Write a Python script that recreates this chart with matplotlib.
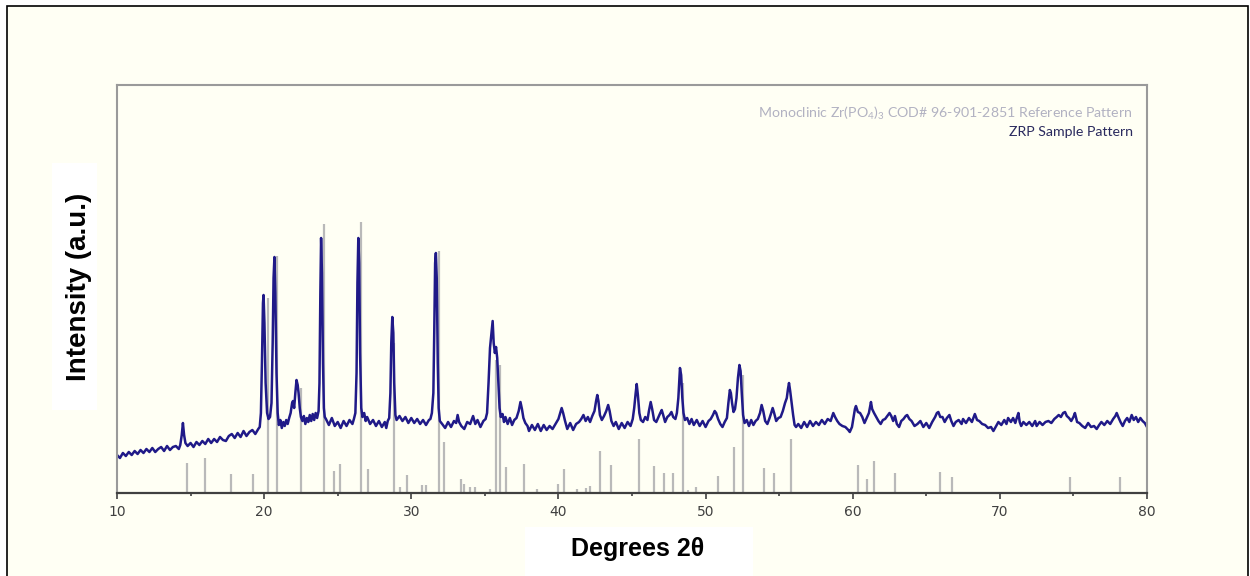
import matplotlib
matplotlib.use("Agg")
import matplotlib.pyplot as plt
from matplotlib.patches import Rectangle

plt.rcParams['mathtext.fontset'] = 'custom'
plt.rcParams['mathtext.rm'] = 'Lato'
plt.rcParams['mathtext.it'] = 'Lato'

# ZRP sample pattern (2theta, intensity in arbitrary units)
sample_2theta = [
    10.0, 10.2, 10.4, 10.6, 10.8, 11.0, 11.2, 11.4, 11.6, 11.8, 12.0, 12.2, 12.4, 12.6, 12.8,
    13.0, 13.2, 13.4, 13.6, 13.8, 14.0, 14.2, 14.3, 14.4, 14.48, 14.56, 14.65, 14.8,
    15.0, 15.2, 15.4, 15.6, 15.8, 16.0, 16.2, 16.4, 16.6, 16.8, 17.0, 17.2, 17.4, 17.6, 17.8,
    18.0, 18.2, 18.4, 18.6, 18.8, 19.0, 19.2, 19.4, 19.6,
    19.7, 19.78, 19.85, 19.92, 19.96, 20.02, 20.1, 20.2, 20.3, 20.4, 20.5, 20.58, 20.64, 20.7,
    20.76, 20.84, 20.92, 21.0,
    21.1, 21.2, 21.3, 21.4, 21.5, 21.6, 21.7, 21.8, 21.9, 21.96, 22.04, 22.12, 22.2, 22.28,
    22.34, 22.42, 22.5, 22.6,
    22.7, 22.8, 22.9, 23.0, 23.1, 23.2, 23.3, 23.4, 23.5, 23.6, 23.7, 23.76, 23.82, 23.87,
    23.93, 24.0, 24.06, 24.12,
    24.2, 24.4, 24.6, 24.8, 25.0, 25.2, 25.4, 25.6, 25.8, 26.0, 26.1, 26.2, 26.28, 26.34,
    26.4, 26.46, 26.52, 26.6, 26.68,
    26.8, 26.9, 27.0, 27.2, 27.4, 27.6, 27.8, 28.0, 28.2, 28.3, 28.4, 28.5, 28.58, 28.64,
    28.71, 28.78, 28.84, 28.92, 29.0,
    29.2, 29.4, 29.6, 29.8, 30.0, 30.2, 30.4, 30.6, 30.8, 31.0, 31.2, 31.3, 31.4, 31.5,
    31.56, 31.62, 31.67, 31.73, 31.8, 31.86, 31.94,
    32.1, 32.3, 32.5, 32.7, 32.9, 33.05, 33.15, 33.25, 33.4, 33.6, 33.8, 34.0, 34.2, 34.35,
    34.5, 34.7, 34.9, 35.05, 35.15, 35.25, 35.35, 35.45, 35.53, 35.6, 35.68, 35.76, 35.84,
    35.92, 36.0, 36.08,
    36.2, 36.3, 36.4, 36.55, 36.7, 36.85, 37.0, 37.15, 37.3, 37.42, 37.52, 37.62, 37.75, 37.9,
    38.0, 38.2, 38.4, 38.6, 38.8, 39.0, 39.2, 39.4, 39.6, 39.8, 40.0, 40.12, 40.22, 40.32,
    40.45, 40.6, 40.8, 41.0, 41.2, 41.4, 41.55, 41.7, 41.85, 42.0, 42.15, 42.3, 42.45, 42.56,
    42.64, 42.72, 42.82, 42.95, 43.1, 43.25, 43.38, 43.48, 43.6, 43.75, 43.9, 44.1, 44.3,
    44.5, 44.7, 44.9, 45.05, 45.15, 45.25, 45.32, 45.4, 45.5, 45.6, 45.75, 45.9, 46.05,
    46.15, 46.27, 46.37, 46.5, 46.65, 46.8, 46.92, 47.02, 47.12, 47.25, 47.4, 47.55, 47.68,
    47.8, 47.95, 48.05, 48.15, 48.26, 48.34, 48.42, 48.5, 48.6, 48.75, 48.9, 49.05, 49.2,
    49.4, 49.6, 49.8, 50.0, 50.2, 50.35, 50.5, 50.62, 50.72, 50.85, 51.0, 51.15, 51.3, 51.45,
    51.55, 51.65, 51.72, 51.8, 51.9, 52.0, 52.1, 52.2, 52.3, 52.38, 52.46, 52.55, 52.65,
    52.8, 52.95, 53.1, 53.25, 53.4, 53.55, 53.7, 53.81, 53.92, 54.05, 54.2, 54.35, 54.46,
    54.56, 54.66, 54.8, 54.95, 55.1, 55.25, 55.4, 55.52, 55.6, 55.67, 55.75, 55.85, 55.95,
    56.05, 56.15,
    56.3, 56.5, 56.7, 56.9, 57.1, 57.3, 57.5, 57.7, 57.9, 58.1, 58.3, 58.5, 58.68, 58.8,
    58.95, 59.1, 59.3, 59.5, 59.7, 59.8, 59.95, 60.05, 60.15, 60.22, 60.35, 60.5, 60.65,
    60.8, 60.95, 61.1, 61.24, 61.32, 61.45, 61.6, 61.75, 61.9, 62.05, 62.2, 62.35, 62.5,
    62.62, 62.75, 62.87, 63.0, 63.15, 63.3, 63.45, 63.6, 63.7, 63.85, 64.0, 64.2, 64.4,
    64.6, 64.8, 65.0, 65.2, 65.4, 65.6, 65.72, 65.82, 65.95, 66.1, 66.25, 66.4, 66.57, 66.7,
    66.85, 67.0, 67.2, 67.4, 67.5, 67.7, 67.9, 68.1, 68.3, 68.45, 68.6, 68.8, 69.0, 69.2,
    69.4, 69.56, 69.75, 69.9, 70.1, 70.3, 70.45, 70.56, 70.75, 70.9, 71.05, 71.15, 71.26,
    71.35, 71.45, 71.6, 71.8, 72.0, 72.2, 72.4, 72.5, 72.7, 72.9, 73.1, 73.3, 73.5, 73.7,
    73.86, 74.0, 74.15, 74.3, 74.43, 74.55, 74.7, 74.85, 75.0, 75.1, 75.25, 75.4, 75.6,
    75.8, 76.0, 76.2, 76.4, 76.58, 76.75, 76.9, 77.1, 77.3, 77.5, 77.7, 77.85, 77.94, 78.05,
    78.2, 78.35, 78.5, 78.65, 78.8, 78.96, 79.1, 79.25, 79.4, 79.55, 79.7, 79.85, 80.0,
]
sample_int = [
    38, 35, 40, 37, 41, 38, 42, 39, 43, 40, 44, 41, 45, 41, 44,
    46, 42, 47, 43, 46, 47, 44, 48, 58, 70, 58, 50, 47,
    50, 46, 51, 48, 52, 49, 54, 50, 54, 51, 56, 53, 52, 57, 59,
    55, 60, 56, 62, 57, 61, 63, 59, 64,
    66, 80, 130, 190, 198, 170, 110, 80, 74, 76, 90, 150, 215, 236,
    200, 120, 80, 68,
    73, 65, 71, 67, 73, 69, 75, 80, 90, 92, 85, 100, 113, 108,
    100, 85, 76, 72,
    77, 69, 75, 71, 78, 72, 79, 73, 80, 75, 82, 110, 200, 255,
    220, 130, 85, 76,
    74, 68, 75, 67, 71, 65, 72, 67, 73, 69, 74, 80, 120, 210,
    255, 230, 140, 85, 76,
    80, 72, 76, 69, 73, 67, 72, 66, 71, 65, 72, 75, 100, 150,
    176, 160, 110, 78, 73,
    77, 72, 76, 70, 75, 70, 74, 69, 73, 68, 73, 74, 80, 100,
    160, 230, 240, 215, 130, 85, 72,
    69, 65, 71, 66, 72, 70, 78, 71, 67, 64, 71, 69, 77, 69,
    73, 66, 72, 74, 80, 110, 145, 160, 172, 150, 140, 146, 135,
    110, 85, 76,
    79, 71, 76, 69, 75, 68, 73, 75, 82, 91, 84, 75, 70, 67,
    62, 68, 63, 69, 62, 68, 63, 67, 64, 69, 74, 80, 85, 80,
    72, 64, 70, 63, 69, 71, 74, 78, 72, 76, 71, 77, 82, 92,
    98, 92, 78, 73, 77, 82, 88, 82, 72, 67, 71, 64, 70,
    65, 71, 67, 74, 85, 100, 109, 98, 80, 73, 71, 76, 73,
    82, 91, 84, 73, 71, 76, 80, 83, 78, 71, 76, 78, 81,
    76, 74, 80, 95, 125, 118, 95, 80, 73, 75, 69, 74, 68,
    73, 67, 72, 66, 72, 74, 78, 82, 80, 74, 69, 66, 71, 75,
    90, 103, 100, 90, 81, 84, 95, 115, 128, 122, 100, 78, 70,
    73, 67, 73, 68, 72, 74, 80, 88, 82, 72, 69, 75, 80,
    85, 80, 72, 75, 76, 82, 90, 95, 104, 110, 102, 90, 78,
    68, 66,
    69, 65, 71, 66, 72, 67, 71, 68, 73, 69, 74, 72, 80, 76,
    72, 69, 67, 66, 63, 61, 66, 75, 84, 87, 81, 80, 76,
    70, 75, 80, 91, 84, 80, 76, 72, 69, 73, 74, 77, 80,
    77, 72, 77, 69, 66, 72, 74, 77, 78, 74, 72, 67, 69,
    72, 66, 70, 65, 71, 76, 80, 81, 76, 76, 71, 75, 78, 72,
    67, 71, 73, 69, 74, 70, 75, 71, 79, 73, 72, 69, 68, 65,
    66, 62, 67, 71, 68, 73, 69, 75, 71, 75, 70, 75, 80,
    71, 67, 71, 68, 71, 67, 72, 67, 71, 68, 71, 72, 70, 74,
    76, 78, 76, 80, 81, 77, 75, 72, 76, 80, 71, 70, 67,
    65, 70, 66, 67, 64, 68, 71, 68, 72, 69, 74, 77, 80, 76,
    71, 67, 72, 75, 71, 78, 73, 76, 71, 75, 72, 70, 66,
]

# Monoclinic Zr(PO4)3 COD# 96-901-2851 reference lines
ref_2theta = [14.74, 15.98, 17.75, 19.27, 20.24, 20.85, 22.48, 24.05, 24.77, 25.13,
              26.56, 27.08, 28.85, 29.23, 29.69, 30.73, 31.0, 31.88, 32.25, 33.4,
              33.58, 33.99, 34.31, 35.35, 35.74, 36.0, 36.44, 37.68, 38.54, 39.99,
              40.4, 41.24, 41.87, 42.13, 42.83, 43.55, 45.5, 46.47, 47.18, 47.81,
              48.45, 48.79, 49.33, 50.87, 51.91, 52.52, 53.95, 54.67, 55.81, 60.34,
              60.99, 61.43, 62.85, 65.95, 66.75, 74.77, 78.17]
ref_int = [30, 35, 19, 19, 195, 237, 105, 269, 22, 29,
           271, 24, 150, 6, 18, 8, 8, 242, 51, 14,
           9, 6, 6, 4, 133, 128, 26, 29, 4, 9,
           24, 4, 5, 7, 42, 28, 54, 27, 20, 20,
           110, 3, 6, 17, 46, 118, 25, 20, 54, 28,
           14, 32, 20, 21, 16, 16, 16]

x_major = [10, 20, 30, 40, 50, 60, 70, 80]
x_minor = [15, 25, 35, 45, 55, 65, 75]

W, H = 1250, 576
fig = plt.figure(figsize=(12.5, 5.76), dpi=100, facecolor='white')

# cream page with black frame
fig.patches.append(Rectangle((7 / W, -0.02), (1248 - 7) / W, 1 - 6 / H + 0.02,
                             transform=fig.transFigure, facecolor='#fffff4',
                             edgecolor='black', linewidth=1.2, zorder=-3))
# white boxes behind the axis titles
fig.patches.append(Rectangle((52 / W, 1 - 410 / H), 45 / W, 247 / H,
                             transform=fig.transFigure, facecolor='white',
                             edgecolor='none', zorder=-2))
fig.patches.append(Rectangle((525 / W, 0), 228 / W, 49 / H,
                             transform=fig.transFigure, facecolor='white',
                             edgecolor='none', zorder=-2))

ax = fig.add_axes([117 / W, 1 - 493 / H, 1030 / W, 408 / H])
ax.set_facecolor('none')
ax.set_zorder(1)

ax.vlines(ref_2theta, 0, ref_int, colors='#b9b9b9', linewidth=1.6, zorder=1)
ax.plot(sample_2theta, sample_int, color='#201a88', linewidth=1.8, zorder=2)

ax.set_xlim(10, 80)
ax.set_ylim(0, 408)
ax.set_xticks(x_major)
ax.set_xticks(x_minor, minor=True)
ax.set_yticks([])
ax.tick_params(axis='x', which='major', length=4, width=1.2, color='#404040',
               labelsize=10, labelcolor='#404040', pad=5)
ax.tick_params(axis='x', which='minor', length=2.5, width=1.2, color='#404040')

for side in ['top', 'left', 'right']:
    ax.spines[side].set_color('#9a9a9a')
    ax.spines[side].set_linewidth(1.5)
ax.spines['bottom'].set_color('#404040')
ax.spines['bottom'].set_linewidth(1.6)

ax.text(0.9864, 0.931, r'Monoclinic Zr(PO$_4$)$_3$ COD# 96-901-2851 Reference Pattern',
        transform=ax.transAxes, ha='right', va='center', fontsize=10.2,
        color='#b2b2c2', family='Lato')
ax.text(0.9864, 0.884, 'ZRP Sample Pattern', transform=ax.transAxes, ha='right',
        va='center', fontsize=10.2, color='#2a2a5e', family='Lato')

fig.text(79 / W, 1 - 287 / H, 'Intensity (a.u.)', rotation=90, ha='center', va='center',
         fontsize=20, fontweight='bold', family=['Liberation Sans', 'DejaVu Sans'], zorder=3)
fig.text(638 / W, 1 - 549 / H, 'Degrees 2θ', ha='center', va='center',
         fontsize=18, fontweight='bold', family=['Liberation Sans', 'DejaVu Sans'], zorder=3)

fig.savefig('out.png', dpi=100, facecolor=fig.get_facecolor())
